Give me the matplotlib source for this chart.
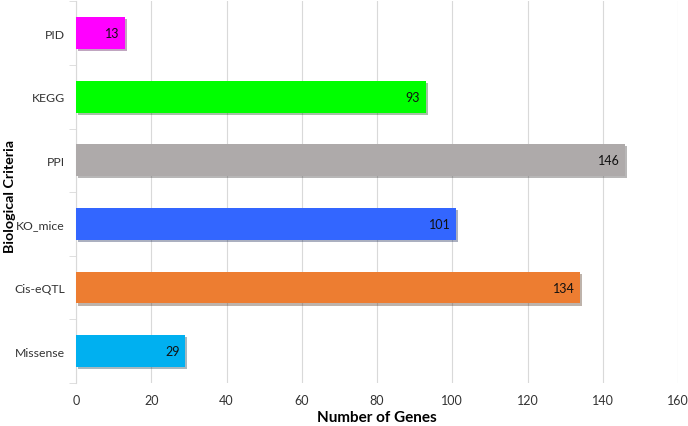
import matplotlib.pyplot as plt
import matplotlib.patheffects as pe
import numpy as np

categories = ["Missense", "Cis-eQTL", "KO_mice", "PPI", "KEGG", "PID"]
genes = [29, 134, 101, 146, 93, 13]
colors = ["#00B0F0", "#ED7D31", "#3366FF", "#AEAAAA", "#00FF00", "#FF00FF"]

plt.rcParams["font.family"] = ["Lato", "DejaVu Sans"]

fig = plt.figure(figsize=(6.88, 4.27), dpi=100)
ax = fig.add_axes([0.1105, 0.1007, 0.875, 0.894])

y = np.arange(len(categories))
bars = ax.barh(y, genes, height=0.5, color=colors, zorder=3,
               path_effects=[pe.SimplePatchShadow(offset=(1.5, -1.5), alpha=0.35), pe.Normal()])

for b, v in zip(bars, genes):
    ax.text(b.get_width() - 1.5, b.get_y() + b.get_height() / 2, str(v),
            ha="right", va="center", fontsize=9, color="#111111", zorder=4)

ax.set_xlim(0, 160)
ax.set_ylim(-0.5, len(categories) - 0.5)
ax.set_xticks(np.arange(0, 161, 20))
ax.set_yticks(y)
ax.set_yticklabels(categories)
ax.set_yticks(np.arange(-0.5, len(categories), 1), minor=True)

ax.tick_params(axis="y", which="major", length=0, pad=8, labelsize=8.8, labelcolor="#333333")
ax.tick_params(axis="y", which="minor", length=5, color="#D9D9D9")
ax.tick_params(axis="x", length=0, pad=8, labelsize=9, labelcolor="#333333")

ax.grid(axis="x", color="#D9D9D9", linewidth=0.8, zorder=0)
for s in ["top", "right", "bottom"]:
    ax.spines[s].set_visible(False)
ax.spines["left"].set_color("#D9D9D9")

ax.set_xlabel("Number of Genes", fontsize=11, fontweight="bold", va="center")
ax.set_ylabel("Biological Criteria", fontsize=10.3, fontweight="bold", va="center")
ax.xaxis.set_label_coords(0.5, -0.089)
ax.yaxis.set_label_coords(-0.11, 0.49)

fig.savefig("out.png", dpi=100)
